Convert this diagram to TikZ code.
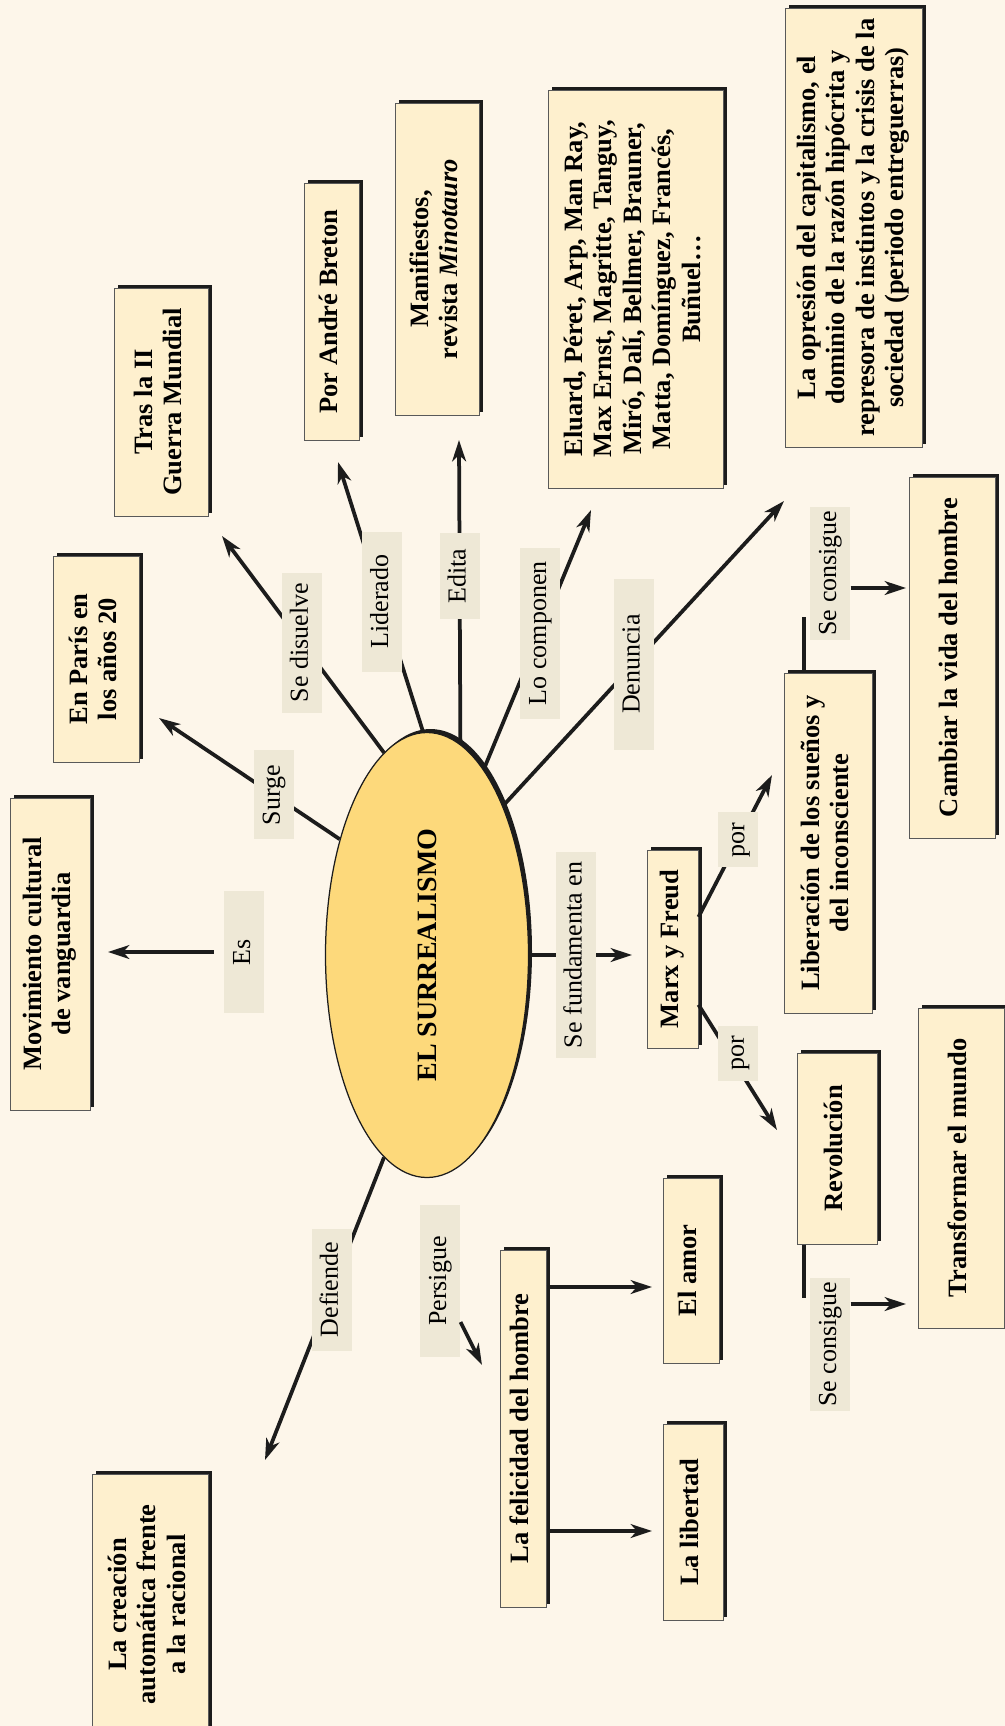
\documentclass[tikz,border=0pt]{standalone}
\usepackage{fontspec}
\setmainfont{Liberation Serif}
\usepackage{graphicx}
\usetikzlibrary{shapes.geometric,shadows,arrows.meta}

\definecolor{cFondo}{HTML}{FDF6EA}
\definecolor{cCaja}{HTML}{FEF0CE}
\definecolor{cElipse}{HTML}{FDD97B}
\definecolor{cEtiq}{HTML}{EEE8D6}
\definecolor{cTinta}{HTML}{1C1C1C}

% texto girado, de abajo arriba
\newcommand{\girado}[1]{\rotatebox{90}{\begin{tabular}{@{}c@{}}#1\end{tabular}}}

\begin{document}
\begin{tikzpicture}[x=0.4pt,y=-0.4pt,
        sombra/.style={drop shadow={shadow xshift=1.4pt,shadow yshift=1.4pt,fill=cTinta,opacity=1}},
        caja/.style 2 args={draw=black!65,line width=0.4pt,fill=cCaja,inner sep=0pt,sombra,
            minimum width=#1*0.4pt,minimum height=#2*0.4pt,font=\bfseries\fontsize{10.6}{11.8}\selectfont},
        etiqueta/.style={fill=cEtiq,inner sep=0pt,minimum width=16pt,minimum height=#1*0.4pt,
            font=\fontsize{10.4}{12}\selectfont},
        linea/.style={draw=cTinta,line width=1.5pt},
        flecha/.style={linea,-{Stealth[length=8.5pt,width=5.5pt,inset=2.5pt]}}]
    \fill[cFondo] (0,0) rectangle (1005,1726);
    \useasboundingbox (0,0) rectangle (1005,1726);

    % centro
    \node[ellipse,draw=cTinta,line width=0.5pt,fill=cElipse,inner sep=0pt,sombra,
        minimum width=203*0.4pt,minimum height=445*0.4pt,font=\bfseries\fontsize{11.2}{13}\selectfont]
        (surr) at (427,955) {\rotatebox{90}{EL SURREALISMO}};

    % cajas
    \node[caja={80}{312}]  (movim)  at (50,954)     {\girado{Movimiento cultural\\de vanguardia}};
    \node[caja={86}{206}]  (paris)  at (96,659)     {\girado{En París en\\los años 20}};
    \node[caja={94}{228}]  (tras)   at (161,402)    {\girado{Tras la II\\Guerra Mundial}};
    \node[caja={55}{257}]  (breton) at (331.5,311.5) {\girado{Por André Breton}};
    \node[caja={84}{312}]  (manif)  at (437,259)    {\girado{Manifiestos,\\revista \textit{Minotauro}}};
    \node[caja={175}{398}] (eluard) at (635.5,289)  {\girado{Eluard, Péret, Arp, Man Ray,\\Max Ernst, Magritte, Tanguy,\\Miró, Dalí, Bellmer, Brauner,\\Matta, Domínguez, Francés,\\Buñuel\ldots}};
    \node[caja={137}{439}] (opres)  at (853.5,227.5) {\girado{La opresión del capitalismo, el\\dominio de la razón hipócrita y\\represora de instintos y la crisis de la\\sociedad (periodo entreguerras)}};
    \node[caja={51}{198}]  (marx)   at (672.5,949)  {\girado{Marx y Freud}};
    \node[caja={88}{340}]  (lib)    at (828,843)    {\girado{Liberación de los sueños y\\del inconsciente}};
    \node[caja={86}{361}]  (cambiar) at (952,657.5) {\girado{Cambiar la vida del hombre}};
    \node[caja={80}{191}]  (revol)  at (837,1148.5) {\girado{Revolución}};
    \node[caja={86}{320}]  (transf) at (961,1168)   {\girado{Transformar el mundo}};
    \node[caja={46}{357}]  (felic)  at (523,1428.5) {\girado{La felicidad del hombre}};
    \node[caja={56}{185}]  (amor)   at (691,1270.5) {\girado{El amor}};
    \node[caja={60}{196}]  (libert) at (693,1522)   {\girado{La libertad}};
    \node[caja={116}{261}] (creac)  at (150,1604.5) {\girado{La creación\\automática frente\\a la racional}};

    % puntas de flecha y extremos libres
    \coordinate (pEs)    at (108,952);
    \coordinate (pSurge) at (159,718);
    \coordinate (pDis)   at (222,536);
    \coordinate (pLid)   at (338,462);
    \coordinate (pEd)    at (459,440);
    \coordinate (pLo)    at (591,510);
    \coordinate (pDen)   at (784,501);
    \coordinate (pFund)  at (632,955);
    \coordinate (pPor1)  at (772,775);
    \coordinate (pPor2)  at (777,1130);
    \coordinate (cLib)   at (804,617);
    \coordinate (pCamb)  at (906,588);
    \coordinate (cRev)   at (804,1298);
    \coordinate (pTrans) at (906,1304);
    \coordinate (pDef)   at (265,1460);
    \coordinate (pPers)  at (482,1365);
    \coordinate (pAmor)  at (652,1287);
    \coordinate (pLibt)  at (652,1531);

    % conectores
    \node[etiqueta=122] (es) at (244,952) {\girado{Es}};
    \draw[flecha,shorten <=4pt] (es) -- (pEs);
    \draw[flecha] (surr.127) -- (pSurge) node[etiqueta=89,pos=0.365] (surge) {\girado{Surge}};
    \draw[flecha] (surr.102) -- (pDis) node[etiqueta=140,pos=0.507] (disuel) {\girado{Se disuelve}};
    \draw[flecha] (surr.91) -- (pLid) node[etiqueta=140,pos=0.483] (lider) {\girado{Liderado}};
    \draw[flecha] (surr.81) -- (pEd) node[etiqueta=86,pos=0.553] (edita) {\girado{Edita}};
    \draw[flecha] (surr.73) -- (pLo) node[etiqueta=171,pos=0.525] (locomp) {\girado{Lo componen}};
    \draw[flecha] (surr.63) -- (pDen) node[etiqueta=171,pos=0.465] (denun) {\girado{Denuncia}};
    \draw[flecha] (surr.east) -- (pFund) node[etiqueta=206,pos=0.452] (fund) {\girado{Se fundamenta en}};
    \draw[flecha] (surr.-102) -- (pDef) node[etiqueta=122,pos=0.437] (defi) {\girado{Defiende}};
    \node[etiqueta=152] (pers) at (440,1281) {\girado{Persigue}};
    \draw[flecha] (pers) -- (pPers);

    \draw[flecha] (marx.51) -- (pPor1) node[etiqueta=55,pos=0.542] (por1) {\girado{por}};
    \draw[flecha] (marx.-65) -- (pPor2) node[etiqueta=55,pos=0.386,xshift=3.6pt] (por2) {\girado{por}};

    \draw[linea] (lib.north -| cLib) -- (cLib);
    \node[etiqueta=133] (cons1) at (830,573) {\girado{Se consigue}};
    \draw[flecha] (cons1.east |- pCamb) -- (pCamb);
    \draw[linea] (revol.south -| cRev) -- (cRev);
    \node[etiqueta=133] (cons2) at (830,1344.5) {\girado{Se consigue}};
    \draw[flecha] (cons2.east |- pTrans) -- (pTrans);

    \draw[flecha] (felic.east |- pAmor) -- (pAmor);
    \draw[flecha] (felic.east |- pLibt) -- (pLibt);
\end{tikzpicture}
\end{document}
